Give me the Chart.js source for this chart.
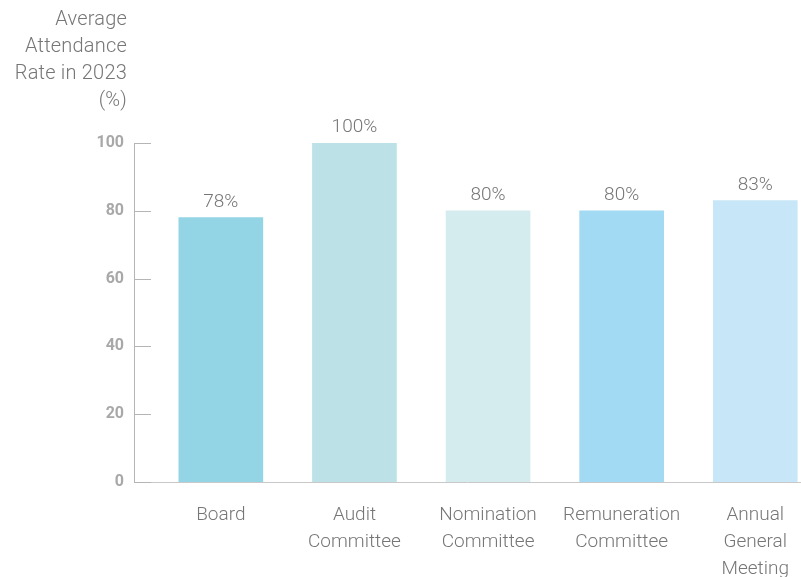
<!DOCTYPE html>
<html>
<head>
<meta charset="utf-8">
<script src="https://cdn.jsdelivr.net/npm/chart.js@4/dist/chart.umd.min.js"></script>
<style>
  html, body { margin: 0; padding: 0; background: #fff; overflow: hidden; }
  #wrap { position: relative; width: 801px; height: 577px; }
  #ytitle { position: absolute; right: calc(801px - 127px); top: 5px; text-align: right;
    font-family: Roboto, "Liberation Sans", sans-serif; font-weight: 300; font-size: 20px;
    line-height: 27px; color: #767676; white-space: nowrap; letter-spacing: 0.2px; }
</style>
</head>
<body>
<div id="wrap">
  <canvas id="c" width="801" height="577"></canvas>
  <div id="ytitle">Average<br>Attendance<br>Rate in 2023<br>(%)</div>
</div>
<script>
const categories = [["Board"], ["Audit", "Committee"], ["Nomination", "Committee"], ["Remuneration", "Committee"], ["Annual", "General", "Meeting"]];
const attendance = [78, 100, 80, 80, 83];
const barColors = ["#93d4e5", "#bce2e8", "#d4ecee", "#a2d9f3", "#c7e6f7"];
const yTicks = [0, 20, 40, 60, 80, 100];

const FONT = 'Roboto, "Liberation Sans", sans-serif';

const valueLabels = {
  id: 'valueLabels',
  afterDatasetsDraw(chart) {
    const ctx = chart.ctx;
    const meta = chart.getDatasetMeta(0);
    ctx.save();
    ctx.font = '300 19px ' + FONT;
    ctx.fillStyle = '#767676';
    ctx.textAlign = 'center';
    ctx.textBaseline = 'bottom';
    meta.data.forEach((bar, i) => {
      ctx.fillText(attendance[i] + '%', bar.x, bar.y - 6);
    });
    ctx.restore();
  }
};

const innerTicks = {
  id: 'innerTicks',
  afterDraw(chart) {
    const ctx = chart.ctx;
    const y = chart.scales.y;
    const left = chart.chartArea.left;
    ctx.save();
    ctx.strokeStyle = '#b5b5b5';
    ctx.lineWidth = 1;
    y.ticks.forEach(t => {
      const py = Math.round(y.getPixelForValue(t.value)) + 0.5;
      ctx.beginPath();
      ctx.moveTo(left, py);
      ctx.lineTo(left + 17, py);
      ctx.stroke();
    });
    ctx.restore();
  }
};

new Chart(document.getElementById('c'), {
  type: 'bar',
  data: {
    datasets: [{
      data: attendance.map((v, i) => ({ x: i, y: v })),
      backgroundColor: barColors,
      barThickness: 84,
      borderWidth: 0
    }]
  },
  options: {
    responsive: false,
    animation: false,
    devicePixelRatio: 1,
    layout: { padding: { top: 143, right: 0, left: 0, bottom: 0 } },
    plugins: { legend: { display: false }, tooltip: { enabled: false } },
    scales: {
      x: {
        type: 'linear',
        offset: false,
        min: -0.65,
        max: 4.337,
        grid: { display: false, offset: false },
        border: { display: true, color: '#c8c8c8', width: 1 },
        afterBuildTicks: s => { s.ticks = categories.map((c, i) => ({ value: i })); },
        afterFit: s => { s.height = 95; },
        ticks: {
          autoSkip: false,
          maxRotation: 0,
          padding: 12,
          color: '#767676',
          font: { family: FONT, size: 19, weight: '300', lineHeight: 1.42 },
          callback: v => categories[v] || ''
        }
      },
      y: {
        min: 0,
        max: 100,
        grid: { display: false, drawTicks: false },
        border: { display: true, color: '#b5b5b5', width: 1 },
        afterBuildTicks: s => { s.ticks = yTicks.map(v => ({ value: v })); },
        afterFit: s => { s.width = 134; },
        ticks: {
          padding: 10,
          color: '#a8a8a8',
          font: { family: FONT, size: 16, weight: 'bold' }
        }
      }
    }
  },
  plugins: [valueLabels, innerTicks]
});
</script>
</body>
</html>
